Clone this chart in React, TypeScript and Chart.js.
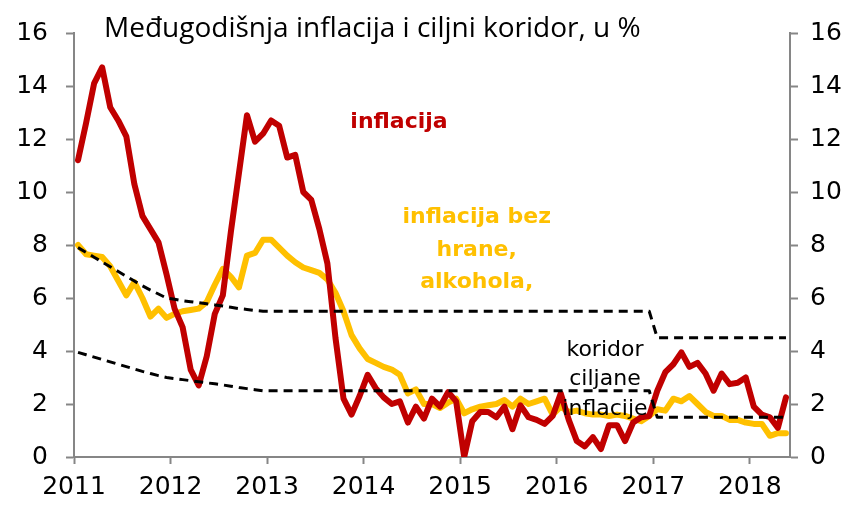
import React, { useEffect, useRef } from "react";
import { Chart, registerables } from "chart.js";

Chart.register(...registerables);

// Monthly observations, January 2011 to May 2018 (index 0 = Jan 2011)
const yearLabels = ["2011", "2012", "2013", "2014", "2015", "2016", "2017", "2018"];
const yTickValues = [0, 2, 4, 6, 8, 10, 12, 14, 16];

const inflation = [
  11.2, 12.6, 14.1, 14.7, 13.2, 12.7, 12.1, 10.3, 9.1, 8.6, 8.1, 6.9,
  5.6, 4.9, 3.3, 2.7, 3.8, 5.4, 6.1, 8.5, 10.7, 12.9, 11.9, 12.2,
  12.7, 12.5, 11.3, 11.4, 10.0, 9.7, 8.6, 7.3, 4.5, 2.2, 1.6, 2.3,
  3.1, 2.6, 2.25, 2.0, 2.1, 1.3, 1.9, 1.45, 2.2, 1.9, 2.45, 2.1,
  0.0, 1.35, 1.7, 1.7, 1.5, 1.9, 1.05, 1.95, 1.5, 1.4, 1.25, 1.55,
  2.4, 1.4, 0.6, 0.4, 0.75, 0.3, 1.2, 1.2, 0.6, 1.3, 1.5, 1.55,
  2.5, 3.2, 3.5, 3.95, 3.4, 3.55, 3.15, 2.5, 3.15, 2.75, 2.8, 3.0,
  1.9, 1.6, 1.5, 1.1, 2.25,
];

const coreInflation = [
  8.0, 7.65, 7.6, 7.55, 7.2, 6.65, 6.1, 6.6, 6.0, 5.3, 5.6, 5.25,
  5.4, 5.5, 5.55, 5.6, 5.85, 6.5, 7.1, 6.8, 6.4, 7.6, 7.7, 8.2,
  8.2, 7.9, 7.6, 7.35, 7.15, 7.05, 6.95, 6.7, 6.2, 5.5, 4.6, 4.1,
  3.7, 3.55, 3.4, 3.3, 3.1, 2.4, 2.55, 2.0, 2.0, 1.85, 2.05, 2.2,
  1.65, 1.8, 1.9, 1.95, 2.0, 2.15, 1.9, 2.2, 2.0, 2.1, 2.2, 1.6,
  1.9, 1.7, 1.75, 1.65, 1.6, 1.6, 1.55, 1.6, 1.55, 1.45, 1.35, 1.55,
  1.8, 1.75, 2.2, 2.1, 2.3, 2.0, 1.7, 1.55, 1.55, 1.4, 1.4, 1.3,
  1.25, 1.25, 0.8, 0.9, 0.9,
];

const corridorUpper = [
  7.9, 7.72, 7.54, 7.36, 7.18, 7.0, 6.82, 6.64, 6.46, 6.3, 6.15, 6.0,
  5.95, 5.9, 5.86, 5.82, 5.78, 5.74, 5.7, 5.65, 5.6, 5.57, 5.53, 5.5,
  5.5, 5.5, 5.5, 5.5, 5.5, 5.5, 5.5, 5.5, 5.5, 5.5, 5.5, 5.5,
  5.5, 5.5, 5.5, 5.5, 5.5, 5.5, 5.5, 5.5, 5.5, 5.5, 5.5, 5.5,
  5.5, 5.5, 5.5, 5.5, 5.5, 5.5, 5.5, 5.5, 5.5, 5.5, 5.5, 5.5,
  5.5, 5.5, 5.5, 5.5, 5.5, 5.5, 5.5, 5.5, 5.5, 5.5, 5.5, 5.5,
  4.5, 4.5, 4.5, 4.5, 4.5, 4.5, 4.5, 4.5, 4.5, 4.5, 4.5, 4.5,
  4.5, 4.5, 4.5, 4.5, 4.5,
];

const corridorLower = [
  3.95, 3.86, 3.77, 3.68, 3.59, 3.5, 3.41, 3.32, 3.23, 3.15, 3.07, 3.0,
  2.96, 2.92, 2.88, 2.84, 2.8, 2.76, 2.72, 2.67, 2.62, 2.58, 2.54, 2.5,
  2.5, 2.5, 2.5, 2.5, 2.5, 2.5, 2.5, 2.5, 2.5, 2.5, 2.5, 2.5,
  2.5, 2.5, 2.5, 2.5, 2.5, 2.5, 2.5, 2.5, 2.5, 2.5, 2.5, 2.5,
  2.5, 2.5, 2.5, 2.5, 2.5, 2.5, 2.5, 2.5, 2.5, 2.5, 2.5, 2.5,
  2.5, 2.5, 2.5, 2.5, 2.5, 2.5, 2.5, 2.5, 2.5, 2.5, 2.5, 2.5,
  1.5, 1.5, 1.5, 1.5, 1.5, 1.5, 1.5, 1.5, 1.5, 1.5, 1.5, 1.5,
  1.5, 1.5, 1.5, 1.5, 1.5,
];

const titleText = "Međugodišnja inflacija i ciljni koridor, u %";
const inflationLabel = ["inflacija"];
const coreLabel = ["inflacija bez", "hrane,", "alkohola,"];
const corridorLabel = ["koridor", "ciljane", "inflacije"];

const RED = "#C00000";
const YELLOW = "#FFC000";
const AXIS = "#868686";
const TICK_FONT = { family: "'DejaVu Sans', sans-serif", size: 25 };

export default function App() {
  const canvasRef = useRef<HTMLCanvasElement>(null);

  useEffect(() => {
    if (!canvasRef.current) return;
    const toPoints = (arr: number[]) => arr.map((v, i) => ({ x: i, y: v }));

    const textPlugin = {
      id: "textPlugin",
      afterDatasetsDraw(chart: any) {
        const { ctx, scales } = chart;
        const xs = scales.x;
        const ys = scales.y;
        ctx.save();
        // title
        ctx.font = "28px 'Open Sans', sans-serif";
        ctx.fillStyle = "#000";
        ctx.textAlign = "left";
        ctx.textBaseline = "alphabetic";
        ctx.fillText(titleText, 104, 37);

        const drawBlock = (lines: string[], xIdx: number, yVal: number, font: string, color: string, gap: number) => {
          ctx.font = font;
          ctx.fillStyle = color;
          ctx.textAlign = "center";
          ctx.textBaseline = "alphabetic";
          const px = xs.getPixelForValue(xIdx);
          const py = ys.getPixelForValue(yVal);
          lines.forEach((l, k) => ctx.fillText(l, px, py + k * gap));
        };
        drawBlock(inflationLabel, 39.9, 12.43, "bold 22px 'DejaVu Sans', sans-serif", RED, 32.5);
        drawBlock(coreLabel, 49.56, 8.83, "bold 22px 'DejaVu Sans', sans-serif", YELLOW, 32.5);
        drawBlock(corridorLabel, 65.5, 3.83, "22px 'DejaVu Sans', sans-serif", "#000", 29.5);
        ctx.restore();
      },
    };

    const lineCommon = {
      pointRadius: 0,
      tension: 0,
      borderCapStyle: "round" as const,
      borderJoinStyle: "round" as const,
      fill: false,
      yAxisID: "y",
    };

    const chart = new Chart(canvasRef.current, {
      type: "line",
      data: {
        datasets: [
          {
            ...lineCommon,
            label: "gornja granica koridora",
            data: toPoints(corridorUpper),
            borderColor: "#000",
            borderWidth: 3,
            borderDash: [9, 6],
            borderCapStyle: "butt",
            order: 0,
          },
          {
            ...lineCommon,
            label: "donja granica koridora",
            data: toPoints(corridorLower),
            borderColor: "#000",
            borderWidth: 3,
            borderDash: [9, 6],
            borderCapStyle: "butt",
            order: 1,
          },
          {
            ...lineCommon,
            label: "inflacija",
            data: toPoints(inflation),
            borderColor: RED,
            borderWidth: 6,
            order: 2,
          },
          {
            ...lineCommon,
            label: "inflacija bez hrane, alkohola",
            data: toPoints(coreInflation),
            borderColor: YELLOW,
            borderWidth: 6,
            order: 3,
          },
        ] as any,
      },
      options: {
        responsive: false,
        animation: false,
        layout: { padding: { top: 23, left: 0, right: 0, bottom: 0 } },
        plugins: { legend: { display: false }, tooltip: { enabled: false }, title: { display: false } },
        scales: {
          x: {
            type: "linear",
            min: -0.5,
            max: inflation.length - 0.5,
            afterBuildTicks: (scale: any) => {
              scale.ticks = yearLabels.map((_, k) => ({ value: k * 12 - 0.5 }));
            },
            afterFit: (scale: any) => {
              scale.height = 49;
            },
            grid: { drawOnChartArea: false, drawTicks: true, tickLength: 7, tickColor: AXIS, tickWidth: 2 },
            border: { display: true, color: AXIS, width: 2 },
            ticks: {
              autoSkip: false,
              maxRotation: 0,
              minRotation: 0,
              padding: 8,
              color: "#000",
              font: TICK_FONT,
              callback: (_v: any, i: number) => yearLabels[i],
            },
          },
          y: {
            position: "left",
            min: 0,
            max: 16,
            afterBuildTicks: (scale: any) => {
              scale.ticks = yTickValues.map((v) => ({ value: v }));
            },
            afterFit: (scale: any) => {
              scale.width = 74;
            },
            grid: { drawOnChartArea: false, drawTicks: true, tickLength: 8, tickColor: AXIS, tickWidth: 2 },
            border: { display: true, color: AXIS, width: 2 },
            ticks: { padding: 18, color: "#000", font: TICK_FONT },
          },
          y1: {
            position: "right",
            min: 0,
            max: 16,
            afterBuildTicks: (scale: any) => {
              scale.ticks = yTickValues.map((v) => ({ value: v }));
            },
            afterFit: (scale: any) => {
              scale.width = 67;
            },
            grid: { drawOnChartArea: false, drawTicks: true, tickLength: 8, tickColor: AXIS, tickWidth: 2 },
            border: { display: true, color: AXIS, width: 2 },
            ticks: { padding: 12, color: "#000", font: TICK_FONT },
          },
        },
      } as any,
      plugins: [textPlugin],
    });

    return () => chart.destroy();
  }, []);

  return (
    <div style={{ position: "fixed", left: 0, top: 0, width: 857, height: 506, background: "#fff" }}>
      <canvas ref={canvasRef} width={857} height={506} style={{ display: "block", width: 857, height: 506 }} />
    </div>
  );
}
